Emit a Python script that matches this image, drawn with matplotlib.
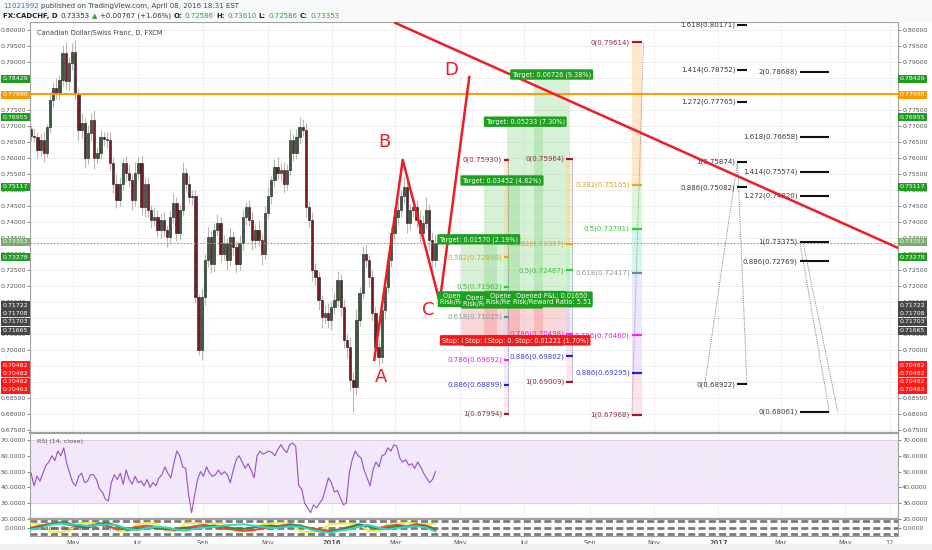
import numpy as np
import pandas as pd
import matplotlib
matplotlib.use('Agg')
import matplotlib.pyplot as plt
import matplotlib.dates as mdates
from matplotlib.patches import Rectangle
from matplotlib.transforms import blended_transform_factory

W, H = 932, 550

closes = [0.7670, 0.7666, 0.7625, 0.7656, 0.7616, 0.7697, 0.7780, 0.7820, 0.7800, 0.7844,
          0.7927, 0.7840, 0.7897, 0.7930, 0.7800, 0.7688, 0.7710, 0.7600, 0.7678, 0.7720,
          0.7600, 0.7616, 0.7666, 0.7660, 0.7656, 0.7584, 0.7520, 0.7469, 0.7520, 0.7584,
          0.7553, 0.7530, 0.7469, 0.7553, 0.7584, 0.7447, 0.7520, 0.7437, 0.7406, 0.7416,
          0.7375, 0.7406, 0.7375, 0.7353, 0.7416, 0.7460, 0.7366, 0.7437, 0.7553, 0.7520,
          0.7478, 0.7480, 0.7166, 0.7000, 0.7166, 0.7280, 0.7353, 0.7270, 0.7375, 0.7397,
          0.7300, 0.7334, 0.7280, 0.7353, 0.7322, 0.7270, 0.7334, 0.7416, 0.7447, 0.7406,
          0.7344, 0.7375, 0.7344, 0.7300, 0.7428, 0.7480, 0.7530, 0.7572, 0.7553, 0.7563,
          0.7520, 0.7563, 0.7656, 0.7616, 0.7666, 0.7697, 0.7688, 0.7447, 0.7406, 0.7250,
          0.7228, 0.7156, 0.7103, 0.7116, 0.7094, 0.7134, 0.7156, 0.7219, 0.7134, 0.7031,
          0.7010, 0.6906, 0.6884, 0.7094, 0.7178, 0.7300, 0.7280, 0.7228, 0.7116, 0.7010,
          0.6978, 0.7125, 0.7197, 0.7280, 0.7366, 0.7416, 0.7437, 0.7480, 0.7510, 0.7397,
          0.7437, 0.7447, 0.7406, 0.7366, 0.7397, 0.7437, 0.7344, 0.7280, 0.7335]
first_open = 0.7690
# wicks beyond the body, in pips
wick_up = [12, 20, 15, 18, 25, 10, 22, 18, 30, 15,
           25, 35, 20, 28, 40, 20, 30, 15, 25, 20,
           30, 18, 22, 15, 20, 25, 18, 30, 20, 15,
           22, 28, 20, 35, 18, 25, 20, 22, 15, 30,
           20, 18, 25, 15, 22, 30, 18, 20, 35, 15,
           25, 20, 20, 10, 25, 20, 30, 18, 22, 28,
           20, 25, 15, 30, 20, 18, 25, 20, 15, 22,
           25, 18, 30, 20, 22, 28, 15, 25, 30, 20,
           25, 18, 35, 20, 25, 30, 25, 20, 18, 25,
           22, 20, 15, 25, 30, 20, 22, 28, 20, 25,
           18, 30, 25, 35, 20, 25, 30, 18, 22, 20,
           25, 20, 18, 25, 22, 30, 28, 20, 35, 25,
           20, 28, 22, 30, 25, 40, 20, 25, 26]
wick_dn = [18, 15, 25, 20, 30, 12, 20, 25, 15, 20,
           18, 25, 30, 22, 20, 35, 25, 30, 20, 25,
           35, 20, 18, 22, 25, 20, 30, 25, 18, 20,
           25, 20, 30, 18, 22, 25, 30, 20, 25, 18,
           22, 25, 20, 30, 18, 20, 25, 22, 18, 25,
           20, 25, 20, 15, 30, 25, 20, 30, 25, 20,
           25, 20, 30, 18, 25, 30, 20, 22, 25, 20,
           30, 25, 20, 35, 20, 18, 25, 22, 20, 25,
           30, 20, 18, 25, 20, 22, 20, 30, 25, 35,
           25, 30, 35, 20, 25, 30, 22, 20, 30, 25,
           35, 30, 80, 25, 20, 18, 25, 30, 25, 35,
           30, 20, 25, 18, 22, 20, 25, 20, 25, 30,
           22, 20, 25, 30, 25, 20, 30, 25, 20]
last_close = 0.73353
orange_level = 0.77988

rsi_values = [49, 41, 47, 44, 49, 54, 56, 60, 57, 63,
              60, 65, 55, 49, 43, 41, 47, 49, 43, 44,
              48, 48, 45, 39, 37, 32.5, 31.5, 43, 48, 45,
              49, 42, 51, 45, 42, 47, 43, 44, 41, 45,
              40, 43, 41, 46, 48, 53, 49, 46, 55, 63,
              60, 53, 52, 35, 24, 35, 45, 50, 47, 53,
              49, 47, 48, 51, 48, 50, 48, 43, 51, 57.5,
              60, 56, 52, 55, 51, 46, 60, 63, 61, 62,
              63, 62, 60, 64, 67, 64, 62, 67, 68, 66,
              41, 39, 30, 27, 24, 29, 27, 30, 32.5, 39,
              46, 43, 37, 38, 33.5, 29, 30, 49, 57.5, 63,
              60, 58.5, 51, 46, 41, 51, 56, 53, 60, 61,
              65, 63, 67, 66, 58.5, 56, 57.5, 54, 55, 52,
              56, 53, 49, 46, 43, 45, 50]

osc_yellow = [0.6, 0.5, -0.6, -0.7, -0.5, 0.6, 0.7, 0.6, 0.5, -0.6, -0.6, 0.5, 0.7, 0.6, -0.5,
              -0.6, 0.6, 0.7, 0.5, 0.6, 0.6, -0.5, -0.6, -0.6, 0.5, 0.6, 0.7, 0.5, -0.6, -0.7,
              -0.5, 0.5, 0.6, 0.6, 0.5, -0.5, -0.6, 0.5, 0.6, 0.7, 0.6, 0.5, 0.6]
osc_red = [0.0, 0.3, 0.6, 0.7, 0.4, 0.1, 0.3, 0.5, 0.2, -0.3, -0.2, 0.1, 0.3, 0.1, -0.2,
           -0.4, -0.1, 0.2, 0.4, 0.1, -0.2, -0.3, -0.5, -0.4, -0.2, 0.1, 0.3, 0.5, 0.2, -0.1,
           -0.3, -0.5, -0.3, 0.1, 0.3, 0.2, -0.1, 0.2, 0.4, 0.2, 0.5, 0.3, -0.2]
osc_green = [-0.2, 0.1, 0.5, 0.8, 0.6, 0.2, 0.0, 0.6, 0.7, 0.2, -0.4, -0.2, 0.0, -0.1, -0.3,
             -0.2, 0.0, -0.1, 0.1, 0.3, 0.1, -0.1, -0.2, 0.0, 0.2, 0.3, 0.1, 0.4, 0.3, -0.2,
             -0.6, -0.7, -0.4, 0.0, 0.5, 0.2, -0.2, -0.1, 0.2, 0.1, 0.3, 0.2, -0.4]
osc_cyan = [-0.3, 0.0, 0.4, 0.6, 0.5, 0.4, 0.2, 0.4, 0.5, 0.3, -0.2, -0.4, -0.1, 0.1, 0.0,
            -0.3, -0.5, -0.2, 0.0, 0.1, 0.3, 0.4, 0.5, 0.3, 0.1, -0.1, 0.0, 0.2, 0.1, -0.3,
            -0.6, -0.8, -0.5, -0.3, 0.1, 0.4, 0.0, -0.3, -0.1, 0.1, 0.2, 0.0, -0.6]

# ---- drawings ----
abcd_dates = ['2016-02-10', '2016-03-08', '2016-04-12', '2016-05-10']
abcd_prices = [0.6969, 0.7594, 0.7150, 0.7853]
abcd_names = ['A', 'B', 'C', 'D']
abcd_label_dates = ['2016-02-16', '2016-02-20', '2016-04-01', '2016-04-23']
abcd_label_prices = [0.6915, 0.7650, 0.7125, 0.7875]

trend_dates = ['2016-03-01', '2017-06-20']
trend_prices = [0.8022, 0.7319]

pos_start = ['2016-05-02', '2016-05-24', '2016-06-15', '2016-07-10']
pos_end = ['2016-06-05', '2016-06-27', '2016-07-19', '2016-08-13']
pos_entry = [0.71708, 0.71665, 0.71722, 0.71703]
pos_target = [0.73278, 0.75117, 0.76955, 0.78429]
pos_stop = [0.70482, 0.70463, 0.70482, 0.70482]

fib_levels = ['0', '0.382', '0.5', '0.618', '0.786', '0.886', '1']
fib_a = [0.75930, 0.72898, 0.71962, 0.71025, 0.69692, 0.68899, 0.67994]
fib_b = [0.75964, 0.73307, 0.72487, 0.71666, 0.70498, 0.69802, 0.69009]
fib_c = [0.79614, 0.75165, 0.73791, 0.72417, 0.70460, 0.69295, 0.67968]
fib_text_colors = ['#8b2e3a', '#d9a21e', '#3cbf3c', '#8a9aa6', '#e020e0', '#3a3ae0', '#8b2e3a']
fib_tick_colors = ['#a01c28', '#f0a020', '#30d030', '#6a8aa0', '#ff20ff', '#2020e0', '#a01c28']
fib_fill_colors = ['#ffcc88', '#aaf0aa', '#a8e8d8', '#d0d0ff', '#e0c0f8', '#f8c0dc']

ext1_levels = ['1.618', '1.414', '1.272', '1', '0.886', '0']
ext1_prices = [0.80171, 0.78752, 0.77765, 0.75874, 0.75082, 0.68922]
ext2_levels = ['2', '1.618', '1.414', '1.272', '1', '0.886', '0']
ext2_prices = [0.78688, 0.76658, 0.75574, 0.74820, 0.73375, 0.72769, 0.68061]

box_values = [0.78429, 0.77988, 0.76955, 0.75117, 0.73353, 0.73278,
              0.71722, 0.71708, 0.71703, 0.71665, 0.70482, 0.70482, 0.70482, 0.70463]
box_colors = ['#1e9e1e', '#ff9900', '#1e9e1e', '#1e9e1e', '#78ad6c', '#1e9e1e',
              '#474747', '#474747', '#474747', '#474747', '#ff1a1a', '#ff1a1a', '#ff1a1a', '#ff1a1a']
# where the price-scale tags sit (stacked tags are pushed apart)
box_pos = [0.78469, 0.77969, 0.77281, 0.75094, 0.73375, 0.72906,
           0.71406, 0.71156, 0.70875, 0.70594, 0.69531, 0.69281, 0.69000, 0.68750]

month_ticks = ['2015-05-01', '2015-07-01', '2015-09-01', '2015-11-01', '2016-01-01', '2016-03-01',
               '2016-05-01', '2016-07-01', '2016-09-01', '2016-11-01', '2017-01-01', '2017-03-01',
               '2017-05-01', '2017-06-12']
month_labels = ['May', 'Jul', 'Sep', 'Nov', '2016', 'Mar', 'May', 'Jul', 'Sep', 'Nov', '2017',
                'Mar', 'May', '12']


def d(s):
    return mdates.date2num(pd.Timestamp(s).to_pydatetime())


def px_rect(x0, y0, x1, y1):
    return [x0 / W, 1 - y1 / H, (x1 - x0) / W, (y1 - y0) / H]


plt.rcParams['font.family'] = ['DejaVu Sans']
fig = plt.figure(figsize=(W / 100, H / 100), dpi=100)
fig.patch.set_facecolor('white')
fig.patches.append(Rectangle((0, 1 - 22 / H), 1, 22 / H, transform=fig.transFigure,
                             fc='#f7f8fa', ec='none', zorder=0))
fig.patches.append(Rectangle((0, 0), 1, 6 / H, transform=fig.transFigure,
                             fc='#eeeff1', ec='none', zorder=0))

ax = fig.add_axes(px_rect(30, 22, 898, 433))
ax_rsi = fig.add_axes(px_rect(30, 433, 898, 519), sharex=ax)
ax_osc = fig.add_axes(px_rect(30, 519, 898, 536), sharex=ax)

axis_grey = '#555555'
for a in (ax, ax_rsi, ax_osc):
    for sp in a.spines.values():
        sp.set_color('#a0a0a0')
        sp.set_linewidth(0.8)
    a.tick_params(axis='y', which='both', left=True, right=True, labelleft=True, labelright=True,
                  direction='out', length=2, width=0.5, labelsize=4.5, colors=axis_grey, pad=1)
    a.grid(True, color='#ededed', lw=0.6, zorder=0)
    a.set_axisbelow(True)
ax_rsi.spines['top'].set_linewidth(1.6)
ax_osc.spines['top'].set_linewidth(1.6)

ax.set_xlim(d('2015-03-21'), d('2017-06-20'))
ax.set_xticks([d(m) for m in month_ticks])
ax_osc.set_xticklabels(month_labels)
for lab in ax_osc.get_xticklabels():
    if lab.get_text() in ('2016', '2017'):
        lab.set_fontweight('bold')
ax.tick_params(axis='x', labelbottom=False, length=0)
ax_rsi.tick_params(axis='x', labelbottom=False, length=0)
ax_osc.tick_params(axis='x', length=0, labelsize=4.8, colors=axis_grey, pad=3)

# ---- price pane ----
ax.set_ylim(0.67406, 0.8025)
ax.set_yticks(np.arange(0.675, 0.8001, 0.005))
ax.yaxis.set_major_formatter(matplotlib.ticker.FormatStrFormatter('%.5f'))

bar_dates = pd.date_range('2015-03-22', '2016-04-08', periods=len(closes))
bx = mdates.date2num(bar_dates.to_pydatetime())
c = np.array(closes)
o = np.array([first_open] + closes[:-1])
hi = np.maximum(o, c) + np.array(wick_up) * 1e-4
lo = np.minimum(o, c) - np.array(wick_dn) * 1e-4
ax.vlines(bx, lo, hi, color='#b8b8b8', lw=0.8, zorder=2)
up = c >= o
body_lo = np.minimum(o, c)
body_h = np.maximum(np.abs(c - o), 0.0002)
ax.bar(bx[up], body_h[up], bottom=body_lo[up], width=2.2, color='#3c5a3c',
       edgecolor='#1a1a1a', lw=0.4, zorder=2.5)
ax.bar(bx[~up], body_h[~up], bottom=body_lo[~up], width=2.2, color='#7a1a22',
       edgecolor='#1a1a1a', lw=0.4, zorder=2.5)

ax.axhline(orange_level, color='#ff9900', lw=1.4, zorder=4)
ax.axhline(last_close, color='#7cb342', lw=0.8, ls=(0, (1.5, 1.5)), zorder=4)

ax.text(7 / 868, 1 - 11 / 411, 'Canadian Dollar/Swiss Franc, D, FXCM', transform=ax.transAxes,
        fontsize=4.8, color='#444444', va='center', ha='left')

# position tools
for i in range(4):
    x0, x1 = d(pos_start[i]), d(pos_end[i])
    e, t, s = pos_entry[i], pos_target[i], pos_stop[i]
    ax.add_patch(Rectangle((x0, e), x1 - x0, t - e, fc='#6fcf6f', alpha=0.28, ec='none', zorder=3))
    ax.add_patch(Rectangle((x0, s), x1 - x0, e - s, fc='#f07070', alpha=0.28, ec='none', zorder=3))
    xc = (x0 + x1) / 2
    gain = t - e
    risk = e - s
    z = 9 + i * 0.1
    lab_kw = dict(textcoords='offset points', ha='center', fontsize=4.7, color='white', zorder=z)
    ax.annotate(f'Target: {gain:.5f} ({gain / e * 100:.2f}%)', (xc, t), xytext=(0, 1.8), va='bottom',
                bbox=dict(boxstyle='round,pad=0.3,rounding_size=0.2', fc='#1f9f1f', ec='none'), **lab_kw)
    ax.annotate(f'Stop: {risk:.5f} ({risk / e * 100:.2f}%)', (xc, s), xytext=(0, -1.8), va='top',
                bbox=dict(boxstyle='round,pad=0.3,rounding_size=0.2', fc='#f21a1a', ec='none'), **lab_kw)
    ax.annotate(f'Opened P&L: {last_close - e:.5f}\nRisk/Reward Ratio: {gain / risk:.2f}', (xc, e),
                xytext=(0, 1.5), va='top', linespacing=1.0,
                bbox=dict(boxstyle='round,pad=0.3,rounding_size=0.2', fc='#1f9f1f', ec='none'), **lab_kw)


def draw_fib(prices, d0, d1, dotted, fill_alpha):
    x0, x1 = d(d0), d(d1)
    for k in range(len(prices) - 1):
        ax.add_patch(Rectangle((x0, prices[k + 1]), x1 - x0, prices[k] - prices[k + 1],
                               fc=fib_fill_colors[k], alpha=fill_alpha, ec='none', zorder=3.5))
    (da, pa), (db, pb) = dotted
    ax.plot([d(da), d(db)], [pa, pb], color='#8a8a8a', lw=0.7, ls=(0, (1, 1.2)), zorder=4)
    for lvl, p, tc, kc in zip(fib_levels, prices, fib_text_colors, fib_tick_colors):
        ax.plot([x0, x1], [p, p], color=kc, lw=1.6, solid_capstyle='butt', zorder=4.5)
        ax.annotate(f'{lvl}({p:.5f})', (x0, p), xytext=(-1.5, 0), textcoords='offset points',
                    ha='right', va='center', fontsize=5, color=tc, zorder=4.6)


draw_fib(fib_a, '2016-06-12', '2016-06-17', [('2016-06-16', fib_a[0]), ('2016-06-16', fib_a[-1])], 0.35)
draw_fib(fib_b, '2016-08-10', '2016-08-16', [('2016-08-15', fib_b[0]), ('2016-08-15', fib_b[-1])], 0.35)
draw_fib(fib_c, '2016-10-11', '2016-10-21', [('2016-10-22', fib_c[0]), ('2016-10-11', fib_c[-1])], 0.45)


def draw_ext(levels, prices, d0, d1):
    x0, x1 = d(d0), d(d1)
    for lvl, p in zip(levels, prices):
        ax.plot([x0, x1], [p, p], color='#111111', lw=1.5, solid_capstyle='butt', zorder=4.5)
        ax.annotate(f'{lvl}({p:.5f})', (x0, p), xytext=(-1.5, 0), textcoords='offset points',
                    ha='right', va='center', fontsize=5, color='#3a3a3a', zorder=4.6)


draw_ext(ext1_levels, ext1_prices, '2017-01-19', '2017-01-28')
draw_ext(ext2_levels, ext2_prices, '2017-03-19', '2017-04-16')
dot_kw = dict(color='#777777', lw=0.7, ls=(0, (1, 1.2)), zorder=4)
ax.plot([d('2016-12-19'), d('2017-01-19')], [ext1_prices[-1], ext1_prices[3]], **dot_kw)
ax.plot([d('2017-01-28'), d('2017-01-19')], [ext1_prices[-1], ext1_prices[3]], **dot_kw)
ax.plot([d('2017-03-19'), d('2017-04-16')], [ext2_prices[4], ext2_prices[-1]], **dot_kw)
ax.plot([d('2017-03-22'), d('2017-04-24')], [ext2_prices[4], ext2_prices[-1]], **dot_kw)

# ABCD pattern and trend line
red = '#ee1c24'
ax.plot([d(s) for s in abcd_dates], abcd_prices, color=red, lw=1.8, zorder=6)
for name, ds, p in zip(abcd_names, abcd_label_dates, abcd_label_prices):
    ax.text(d(ds), p, name, color=red, fontsize=13, ha='center', va='center', zorder=6)
ax.plot([d(s) for s in trend_dates], trend_prices, color=red, lw=1.8, zorder=6)

# price-scale tags on both sides
tr = blended_transform_factory(ax.transAxes, ax.transData)
for val, pos, col in zip(box_values, box_pos, box_colors):
    for xa, dx, ha in ((1, 1.2, 'left'), (0, -1.2, 'right')):
        ax.annotate(f'{val:.5f}', (xa, pos), xycoords=tr, xytext=(dx, 0), textcoords='offset points',
                    ha=ha, va='center', fontsize=4.5, color='white', annotation_clip=False, zorder=20,
                    bbox=dict(boxstyle='square,pad=0.28', fc=col, ec='none'))

# ---- RSI pane ----
ax_rsi.set_ylim(20.6, 74.4)
ax_rsi.set_yticks([20, 30, 40, 50, 60, 70])
ax_rsi.yaxis.set_major_formatter(matplotlib.ticker.FormatStrFormatter('%.4f'))
ax_rsi.axhspan(30, 70, fc='#f3e7fb', ec='none', zorder=0.5)
ax_rsi.axhline(70, color='#dcc7ea', lw=0.6, zorder=0.6)
ax_rsi.axhline(30, color='#dcc7ea', lw=0.6, zorder=0.6)
rsi_dates = pd.date_range('2015-03-22', '2016-04-08', periods=len(rsi_values))
ax_rsi.plot(mdates.date2num(rsi_dates.to_pydatetime()), rsi_values, color='#9b4dca', lw=0.8, zorder=3)
ax_rsi.text(7 / 868, 1 - 9 / 86, 'RSI (14, close)', transform=ax_rsi.transAxes, fontsize=4.6,
            color='#555555', va='center', ha='left')

# ---- bottom oscillator pane ----
ax_osc.set_ylim(-1.3, 1.3)
ax_osc.set_yticks([0])
ax_osc.yaxis.set_major_formatter(matplotlib.ticker.FormatStrFormatter('%.4f'))
for v in (-1, 0, 1):
    ax_osc.axhline(v, color='#7a7a7a', lw=2, dashes=(2.5, 1.2), zorder=2)
for series, col in ((osc_yellow, '#f2ef3a'), (osc_red, '#e8453c'), (osc_green, '#2e8b3a'),
                    (osc_cyan, '#2fd6c8')):
    sd = pd.date_range('2015-03-22', '2016-04-08', periods=len(series))
    ax_osc.plot(mdates.date2num(sd.to_pydatetime()), series, color=col, lw=1.4, zorder=3)
ax_osc.text(7 / 868, 0.45, 'Chaikin Oscillator (5, 13)', transform=ax_osc.transAxes, fontsize=4.3,
            color='#555555', va='center', ha='left', zorder=4)


# ---- header ----
def text_row(x_px, y_px, parts, size):
    renderer = fig.canvas.get_renderer()
    x = x_px
    for s, col, weight in parts:
        t = fig.text(x / W, 1 - y_px / H, s, color=col, fontsize=size, fontweight=weight,
                     ha='left', va='center')
        x += t.get_window_extent(renderer=renderer).width + 2.5


text_row(3, 6, [('11021992', '#2a7cc4', 'normal'),
                ('published on TradingView.com, April 08, 2016 18:31 EST', '#444444', 'normal')], 5)
g = '#2aa52a'
text_row(3, 16, [('FX:CADCHF, D', '#222222', 'bold'), ('0.73353', '#333333', 'normal'),
                 ('\u25b2', g, 'normal'), ('+0.00767 (+1.06%)', '#333333', 'normal'),
                 ('O:', '#222222', 'bold'), ('0.72586', g, 'normal'),
                 ('H:', '#222222', 'bold'), ('0.73610', g, 'normal'),
                 ('L:', '#222222', 'bold'), ('0.72586', g, 'normal'),
                 ('C:', '#222222', 'bold'), ('0.73353', g, 'normal')], 5)

fig.savefig('out.png', dpi=100)
